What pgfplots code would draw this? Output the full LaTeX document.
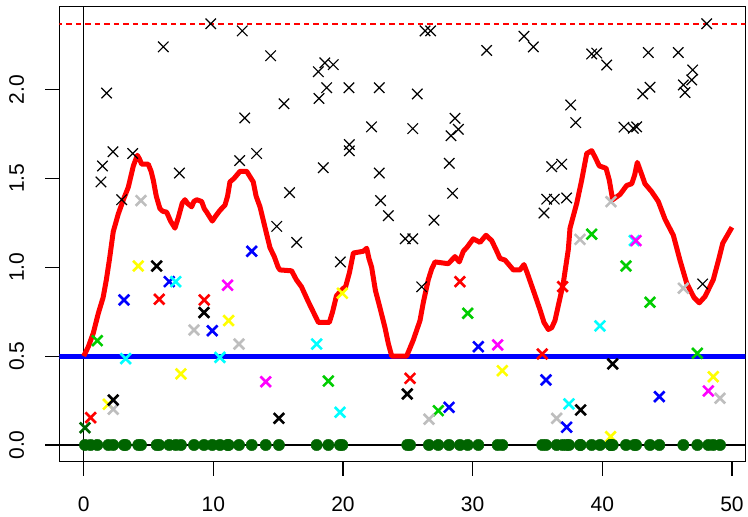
\documentclass[border=0pt]{standalone}
\usepackage{fontspec}
\setmainfont{Liberation Sans}
\usepackage{pgfplots}
\pgfplotsset{compat=1.18}
\definecolor{rred}{HTML}{FF0000}
\definecolor{rgreen}{HTML}{00CD00}
\definecolor{rdarkgreen}{HTML}{006400}
\definecolor{rgray}{HTML}{BEBEBE}
\definecolor{rblue}{HTML}{0000FF}
\definecolor{rcyan}{HTML}{00FFFF}
\definecolor{rmagenta}{HTML}{FF00FF}
\definecolor{ryellow}{HTML}{FFFF00}

\begin{document}
\begin{tikzpicture}
\useasboundingbox (-59.3pt,-55.3pt) rectangle (688.7pt,461.7pt);
\begin{axis}[
  at={(0,0)}, anchor=south west,
  scale only axis, width=686pt, height=455pt,
  xmin=-1.88, xmax=51.03, ymin=-0.094, ymax=2.466,
  axis line style={line width=1.2pt},
  tick pos=left, tick align=outside, major tick length=14pt,
  tick style={line width=1.2pt, black},
  xtick={0,10,20,30,40,50}, xticklabels={0,10,20,30,40,50},
  ytick={0,0.5,1,1.5,2}, yticklabels={0.0,0.5,1.0,1.5,2.0},
  ticklabel style={font=\fontsize{21}{25}\selectfont, inner sep=0pt},
  xticklabel style={anchor=north},
  yticklabel style={rotate=90, anchor=south},
  xticklabel shift=21pt, yticklabel shift=21pt,
  /pgf/number format/assume math mode=true,
]

% observed values
\addplot[only marks, mark=x, mark size=7.4pt, line width=1.2pt, black] table {
x y
1.33 1.48
1.45 1.57
1.77 1.98
2.26 1.65
2.93 1.38
3.78 1.64
6.14 2.24
7.38 1.53
9.80 2.37
12.03 1.60
12.23 2.33
12.42 1.84
13.34 1.64
14.42 2.19
14.89 1.23
15.45 1.92
15.88 1.42
16.43 1.14
18.10 2.10
18.15 1.95
18.48 1.56
18.60 2.15
18.74 2.01
19.25 2.14
19.80 1.03
20.46 2.01
20.49 1.69
20.49 1.655
22.20 1.79
22.80 2.01
22.80 1.53
22.90 1.375
23.50 1.29
24.80 1.16
25.38 1.16
25.38 1.78
25.73 1.975
26.07 0.89
26.33 2.33
26.76 2.33
27.02 1.265
28.20 1.585
28.33 1.74
28.45 1.416
28.64 1.838
28.90 1.776
31.08 2.22
33.96 2.30
34.68 2.24
35.50 1.305
35.71 1.383
36.10 1.566
36.30 1.383
36.87 1.58
37.25 1.39
37.56 1.913
37.95 1.814
39.18 2.20
39.57 2.205
40.34 2.138
41.67 1.788
42.39 1.782
42.65 1.79
43.12 1.975
43.55 2.208
43.68 2.013
45.86 2.208
46.25 2.026
46.38 1.983
46.90 2.054
46.97 2.11
47.74 0.906
48.05 2.37
};

% reference lines
\addplot[draw=black, line width=1.2pt] coordinates {(0,-1) (0,3)};
\addplot[draw=black, line width=1.2pt] coordinates {(-5,0) (55,0)};
\addplot[draw=rred, line width=1.5pt, dash pattern=on 5.5pt off 4pt] coordinates {(-5,2.37) (55,2.37)};
\addplot[draw=rblue, line width=4.8pt] coordinates {(-5,0.5) (55,0.5)};

% smoothed estimate
\addplot[draw=rred, line width=5pt, line join=round] coordinates {
(0,0.5) (0.36,0.553) (0.74,0.629) (1.13,0.741) (1.5,0.83) (1.75,0.93)
(2.0,1.05) (2.28,1.20) (2.67,1.30) (3.06,1.38) (3.44,1.45) (3.83,1.57)
(4.14,1.63) (4.3,1.61) (4.47,1.58) (4.98,1.58) (5.2,1.54) (5.37,1.49)
(5.6,1.40) (5.88,1.33) (6.1,1.315) (6.40,1.31) (6.7,1.26) (7.04,1.22)
(7.3,1.28) (7.6,1.36) (7.81,1.38) (8.0,1.36) (8.33,1.34) (8.5,1.37)
(8.72,1.38) (9.1,1.37) (9.3,1.33) (9.49,1.31) (9.92,1.26) (10.2,1.29)
(10.51,1.32) (10.9,1.35) (11.1,1.40) (11.28,1.48) (11.6,1.50) (12.06,1.54)
(12.57,1.54) (13.08,1.48) (13.3,1.40) (13.6,1.34) (14.0,1.22) (14.37,1.11)
(14.7,1.06) (15.0,1.00) (15.14,0.985) (16.04,0.98) (16.4,0.93) (16.8,0.89)
(17.3,0.81) (17.7,0.75) (18.1,0.69) (18.95,0.69) (19.2,0.75) (19.5,0.84)
(20.0,0.88) (20.2,0.89) (20.5,0.97) (20.8,1.08) (21.57,1.09) (21.83,1.107)
(22.0,1.05) (22.21,1.0) (22.5,0.87) (22.86,0.77) (23.24,0.66) (23.5,0.57)
(23.76,0.5) (24.91,0.5) (25.42,0.59) (25.94,0.70) (26.19,0.80) (26.58,0.93)
(26.84,0.99) (27.1,1.03) (28.12,1.02) (28.64,1.06) (28.97,1.03) (29.28,1.09)
(29.54,1.11) (30.05,1.16) (30.57,1.14) (31.03,1.18) (31.47,1.15) (31.8,1.10)
(32.11,1.05) (32.5,1.04) (33.14,0.985) (33.65,0.985) (33.96,1.015) (34.2,0.97)
(34.68,0.87) (35.2,0.76) (35.5,0.69) (35.84,0.65) (36.1,0.66) (36.35,0.70)
(36.87,0.87) (36.99,0.91) (37.38,1.10) (37.51,1.22) (38.03,1.36) (38.41,1.49)
(38.8,1.64) (39.18,1.656) (39.44,1.62) (39.77,1.57) (40.29,1.557) (40.54,1.49)
(40.8,1.38) (41.37,1.41) (41.88,1.46) (42.27,1.47) (42.5,1.52) (42.7,1.59)
(43.0,1.53) (43.29,1.47) (43.81,1.425) (44.32,1.37) (44.84,1.27) (45.48,1.18)
(45.99,1.04) (46.51,0.91) (47.07,0.83) (47.48,0.80) (47.92,0.835) (48.56,0.93)
(49.0,1.05) (49.29,1.135) (50.0,1.225)
};

% sampled points by group
\pgfplotsset{grp/.style={only marks, mark=x, mark size=7.4pt, line width=2.6pt, #1}}
\addplot[grp=rdarkgreen] coordinates {(0.10,0.097)};
\addplot[grp=rred] coordinates {(0.54,0.154) (5.83,0.82) (9.3,0.816) (25.17,0.375) (29.02,0.919) (35.37,0.512) (36.94,0.891)};
\addplot[grp=rgreen] coordinates {(1.05,0.587) (18.87,0.36) (27.35,0.193) (29.62,0.741) (39.18,1.186) (41.83,1.007) (43.68,0.803) (47.33,0.516)};
\addplot[grp=ryellow] coordinates {(1.9,0.229) (4.21,1.007) (7.5,0.40) (11.18,0.70) (19.95,0.854) (32.29,0.418) (40.64,0.047) (48.56,0.384)};
\addplot[grp=rgray] coordinates {(2.28,0.201) (4.42,1.375) (8.51,0.647) (11.98,0.568) (26.63,0.145) (36.48,0.15) (38.28,1.157) (40.67,1.369) (46.25,0.882) (49.08,0.263)};
\addplot[grp=black] coordinates {(2.28,0.253) (5.63,1.007) (9.28,0.745) (15.06,0.150) (24.96,0.287) (38.33,0.197) (40.8,0.456)};
\addplot[grp=rblue] coordinates {(3.11,0.816) (6.6,0.919) (9.92,0.643) (12.96,1.09) (28.18,0.212) (30.44,0.553) (35.66,0.366) (37.25,0.10) (44.4,0.272)};
\addplot[grp=rcyan] coordinates {(3.24,0.486) (7.1,0.919) (10.51,0.493) (17.97,0.568) (19.77,0.184) (37.43,0.231) (39.82,0.67) (42.47,1.15)};
\addplot[grp=rmagenta] coordinates {(11.1,0.899) (14.04,0.356) (31.93,0.563) (42.6,1.15) (48.18,0.304)};

% sample locations on the baseline
\addplot[only marks, mark=*, mark size=5.7pt, rdarkgreen, mark options={draw=rdarkgreen, fill=rdarkgreen}] coordinates {
(0.10,0) (0.54,0) (1.05,0) (1.9,0) (2.28,0) (3.11,0) (3.24,0) (4.21,0) (4.42,0)
(5.63,0) (5.83,0) (6.6,0) (7.1,0) (7.5,0) (8.51,0) (9.28,0) (9.92,0) (10.51,0)
(11.1,0) (11.18,0) (11.98,0) (12.96,0) (14.04,0) (15.06,0) (17.97,0) (18.87,0)
(19.77,0) (19.95,0) (24.96,0) (25.17,0) (26.63,0) (27.35,0) (28.18,0) (29.02,0)
(29.62,0) (30.44,0) (31.93,0) (32.29,0) (35.37,0) (35.66,0) (36.48,0) (36.94,0)
(37.25,0) (37.43,0) (38.28,0) (38.33,0) (39.18,0) (39.82,0) (40.64,0) (40.67,0)
(40.8,0) (41.83,0) (42.47,0) (42.6,0) (43.68,0) (44.4,0) (46.25,0) (47.33,0)
(48.18,0) (48.56,0) (49.08,0)
};
\end{axis}
\end{tikzpicture}
\end{document}
